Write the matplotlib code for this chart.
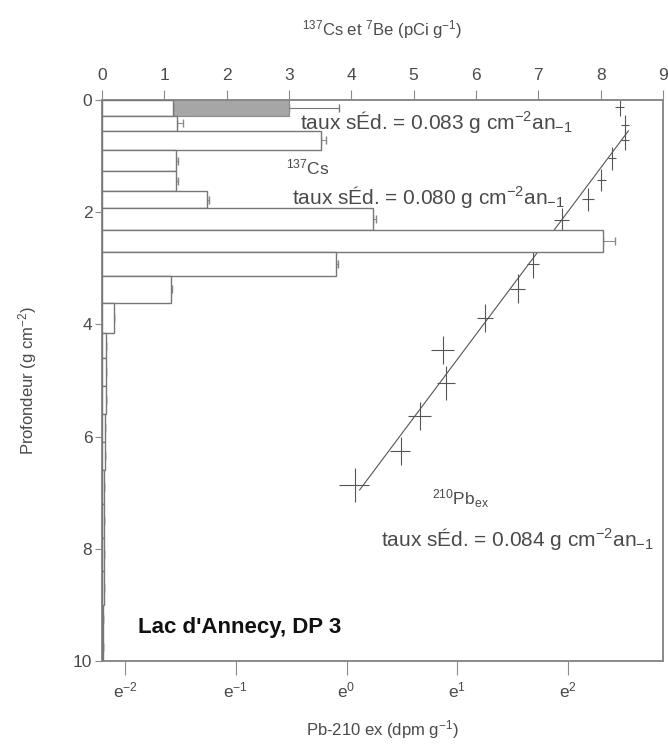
import numpy as np
import matplotlib
matplotlib.use('Agg')
import matplotlib.pyplot as plt
from matplotlib.ticker import FixedLocator, FixedFormatter

plt.rcParams['font.family'] = ['Liberation Sans', 'DejaVu Sans']
plt.rcParams['mathtext.default'] = 'regular'

# --- Données ---
# 137Cs : bornes des tranches (g cm-2) et activités (pCi g-1)
cs_bornes = [0, 0.28, 0.55, 0.89, 1.27, 1.63, 1.93, 2.32, 2.71, 3.13, 3.61, 4.16,
             4.6, 5.1, 5.6, 6.1, 6.6, 7.2, 7.8, 8.4, 9.0, 9.5, 10.0]
cs_valeurs = [1.14, 1.2, 3.52, 1.18, 1.18, 1.69, 4.34, 8.03, 3.75, 1.1, 0.19,
              0.07, 0.06, 0.06, 0.05, 0.05, 0.04, 0.03, 0.03, 0.03, 0.02, 0.02]
cs_erreurs = [0.0, 0.1, 0.08, 0.04, 0.04, 0.03, 0.05, 0.2, 0.03, 0.02, 0.0,
              0, 0, 0, 0, 0, 0, 0, 0, 0, 0, 0]
# 7Be (première tranche seulement)
be_valeur = 3.0
be_erreur = 0.8

# 210Pb ex : profondeur (g cm-2), activité (dpm g-1) et erreurs
pb_prof = [0.13, 0.45, 0.71, 1.04, 1.43, 1.77, 2.13, 2.93, 3.36, 3.89, 4.46, 5.04, 5.64, 6.25, 6.86]
pb_act = [11.8, 12.4, 12.4, 11.0, 10.0, 8.9, 7.0, 5.4, 4.7, 3.5, 2.4, 2.46, 1.95, 1.63, 1.08]
pb_err_x = [0.5, 0.4, 0.4, 0.4, 0.4, 0.5, 0.5, 0.3, 0.3, 0.25, 0.25, 0.2, 0.2, 0.15, 0.15]
pb_err_y = [0.15, 0.18, 0.18, 0.2, 0.2, 0.2, 0.2, 0.25, 0.25, 0.25, 0.25, 0.3, 0.25, 0.25, 0.3]

# droite d'ajustement ln(A) = a + b * profondeur
fit_a, fit_b = 2.756, -0.3795
fit_prof = [0.55, 6.95]

ticks_e = [-2, -1, 0, 1, 2]

c_axe = '#8a8a8a'
c_txt = '#4a4a4a'
t_lab = 12     # titres d'axes
t_tick = 12.5  # graduations
t_ann = 15     # annotations

# 1. Figure
fig = plt.figure(figsize=(6.68, 7.48), dpi=100, facecolor='white')
ax = fig.add_axes([0.1527, 0.1163, 0.8398, 0.75])

# 2. Axe du bas : 210Pb (échelle log base e)
ax.set_xscale('log', base=np.e)
ax.set_xlim(np.exp(-2.21), np.exp(2.86))
ax.set_ylim(10, 0)

p = np.array(fit_prof)
ax.plot(np.exp(fit_a + fit_b * p), p, color='#555555', lw=0.8)
ax.errorbar(pb_act, pb_prof, xerr=pb_err_x, yerr=pb_err_y, fmt='none',
            ecolor='#555555', elinewidth=0.8, capsize=0)

ax.xaxis.set_major_locator(FixedLocator(np.exp(ticks_e)))
ax.xaxis.set_major_formatter(FixedFormatter(['$e^{%d}$' % k for k in ticks_e]))
ax.xaxis.set_minor_locator(FixedLocator([]))
ax.set_yticks([0, 2, 4, 6, 8, 10])
ax.set_xlabel('Pb-210 ex (dpm g$^{-1}$)', fontsize=t_lab, color=c_txt, va='center')
ax.xaxis.set_label_coords(0.5, -0.123)
ax.set_ylabel('Profondeur (g cm$^{-2}$)', fontsize=t_lab, color=c_txt, va='center')
ax.yaxis.set_label_coords(-0.132, 0.5)
ax.tick_params(axis='x', direction='out', length=10, color=c_axe, labelcolor=c_txt,
               labelsize=t_tick, pad=4)
ax.tick_params(axis='y', direction='out', length=5, color=c_axe, labelcolor=c_txt,
               labelsize=t_tick, pad=2)

# 3. Axe du haut : 137Cs et 7Be
ax2 = ax.twiny()
ax2.set_xlim(0, 9)
bornes = np.array(cs_bornes)
epais = np.diff(bornes)
centres = bornes[:-1] + epais / 2

ax2.barh(centres[0], be_valeur, height=epais[0], color='#a6a6a6', edgecolor='#8a8a8a',
         lw=0.8, zorder=2)
ax2.errorbar([be_valeur], [centres[0]], xerr=[[0], [be_erreur]], fmt='none',
             ecolor='#777777', elinewidth=0.8, capsize=3, zorder=1)
ax2.barh(centres, cs_valeurs, height=epais, color='white', edgecolor='#777777',
         lw=1.0, zorder=3)
ax2.errorbar(cs_valeurs, centres, xerr=[np.zeros(len(cs_erreurs)), cs_erreurs],
             fmt='none', ecolor='#888888', elinewidth=0.7, capsize=3, zorder=2)

ax2.set_xticks(range(10))
ax2.set_xlabel('$^{137}$Cs et $^{7}$Be (pCi g$^{-1}$)', fontsize=t_lab, color=c_txt,
               va='center')
ax2.xaxis.set_label_coords(0.5, 1.125)
ax2.tick_params(axis='x', direction='out', length=7, color=c_axe, labelcolor=c_txt,
                labelsize=t_tick, pad=5)

for a in (ax, ax2):
    for s in a.spines.values():
        s.set_color(c_axe)
        s.set_linewidth(1.2)

# 4. Annotations
kw = dict(fontsize=t_ann, color=c_txt, va='center', ha='left', zorder=5)
ax2.text(3.17, 0.39, 'taux sÉd. = 0.083 g cm$^{-2}$an$_{-1}$', **kw)
ax2.text(2.95, 1.2, '$^{137}$Cs', fontsize=12.5, color=c_txt, va='center', ha='left')
ax2.text(3.05, 1.73, 'taux sÉd. = 0.080 g cm$^{-2}$an$_{-1}$', **kw)
ax2.text(5.3, 7.1, '$^{210}$Pb$_{ex}$', fontsize=12.5, color=c_txt, va='center', ha='left')
ax2.text(4.47, 7.82, 'taux sÉd. = 0.084 g cm$^{-2}$an$_{-1}$', **kw)
ax2.text(0.58, 9.41, "Lac d'Annecy, DP 3", fontsize=16, fontweight='bold',
         color='#111111', va='center', ha='left')

fig.savefig('out.png', dpi=100)
